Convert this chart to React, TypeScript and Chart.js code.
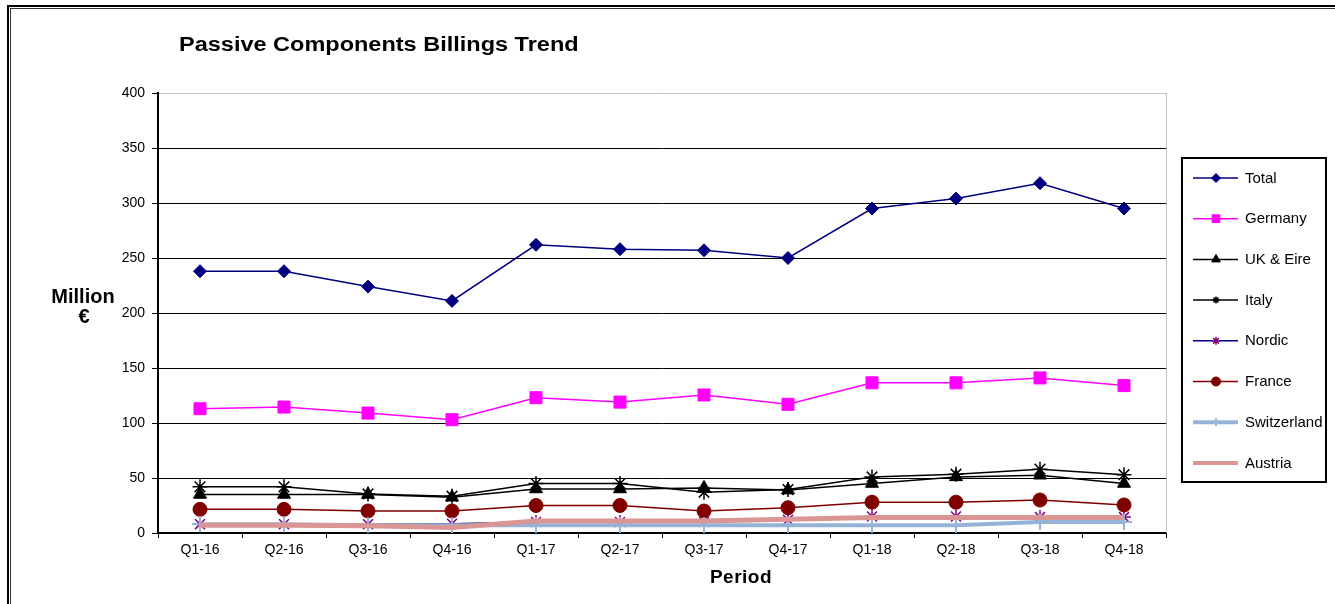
import React, { useEffect, useRef } from 'react';
import { Chart, registerables } from 'chart.js';
import * as helpers from 'chart.js/helpers';

Chart.register(...registerables);

const periods = ['Q1-16', 'Q2-16', 'Q3-16', 'Q4-16', 'Q1-17', 'Q2-17', 'Q3-17', 'Q4-17', 'Q1-18', 'Q2-18', 'Q3-18', 'Q4-18'];
const total = [238, 238, 224, 211, 262, 258, 257, 250, 295, 304, 318, 295];
const germany = [113, 114.5, 109, 103, 123, 119, 125.5, 117, 136.5, 136.5, 141, 134];
const ukEire = [35, 35, 35, 32.5, 40, 40, 41, 39, 45, 51, 52.5, 45];
const italy = [42, 42, 35.5, 33.5, 45, 45, 37, 39.5, 51, 53.5, 58, 53];
const nordic = [8, 8, 8, 8.5, 10, 10, 10, 12, 15, 15, 14.5, 14.5];
const france = [21.5, 21.5, 20, 20, 25, 25, 20, 23, 28, 28, 30, 25.5];
const switzerland = [8, 8, 7, 7, 7, 7, 7, 7, 7, 7, 10, 10];
const austria = [7, 7, 6.5, 5, 11, 11, 11, 12.5, 14, 14, 14, 14];
const seriesNames = ['Total', 'Germany', 'UK & Eire', 'Italy', 'Nordic', 'France', 'Switzerland', 'Austria'];

const FONT = "'Liberation Sans', Arial, sans-serif";

type Style = {
  line: string; width: number; marker: string; markerColor: string;
  radius: number; pbw: number; legendRadius: number; fillMarker: boolean;
};

const styles: Style[] = [
  { line: '#000080', width: 1.5, marker: 'rectRot', markerColor: '#000080', radius: 6.5, pbw: 1, legendRadius: 4.5, fillMarker: true },
  { line: '#FF00FF', width: 1.5, marker: 'rect', markerColor: '#FF00FF', radius: 8.5, pbw: 1, legendRadius: 5.5, fillMarker: true },
  { line: '#000000', width: 1.5, marker: 'triangle', markerColor: '#000000', radius: 7.5, pbw: 1, legendRadius: 5, fillMarker: true },
  { line: '#000000', width: 1.5, marker: 'star', markerColor: '#000000', radius: 7.5, pbw: 1.5, legendRadius: 3.5, fillMarker: false },
  { line: '#000080', width: 1.5, marker: 'star', markerColor: '#800080', radius: 7, pbw: 1.5, legendRadius: 4, fillMarker: false },
  { line: '#800000', width: 1.5, marker: 'circle', markerColor: '#800000', radius: 7, pbw: 1, legendRadius: 4.5, fillMarker: true },
  { line: '#95B3D7', width: 4, marker: 'cross', markerColor: '#95B3D7', radius: 8, pbw: 2, legendRadius: 4, fillMarker: false },
  { line: '#D99694', width: 5, marker: 'circle', markerColor: '#D99694', radius: 0, pbw: 0, legendRadius: 0, fillMarker: false },
];

const seriesValues = [total, germany, ukEire, italy, nordic, france, switzerland, austria];

const decorPlugin = {
  id: 'decor',
  beforeDraw(chart: any) {
    const ctx = chart.ctx;
    ctx.save();
    ctx.fillStyle = '#ffffff';
    ctx.fillRect(0, 0, chart.width, chart.height);
    // outer frame
    ctx.fillStyle = '#000000';
    ctx.fillRect(7, 5, 2, chart.height);
    ctx.fillRect(7, 5, chart.width, 2);
    ctx.fillStyle = '#333333';
    ctx.fillRect(10, 8, 1, chart.height);
    ctx.fillRect(10, 8, chart.width, 1);
    ctx.restore();
  },
  afterDraw(chart: any) {
    const ctx = chart.ctx;
    const area = chart.chartArea;
    ctx.save();
    // plot area right border (gray)
    ctx.strokeStyle = '#c0c0c0';
    ctx.lineWidth = 1;
    ctx.beginPath();
    ctx.moveTo(area.right + 0.5, area.top);
    ctx.lineTo(area.right + 0.5, area.bottom);
    ctx.stroke();

    // title (horizontally stretched like the original rendering)
    ctx.fillStyle = '#000';
    ctx.textAlign = 'left';
    ctx.textBaseline = 'alphabetic';
    ctx.font = `bold 20px ${FONT}`;
    ctx.save();
    ctx.translate(179, 51);
    ctx.scale(1.175, 1);
    ctx.fillText('Passive Components Billings Trend', 0, 0);
    ctx.restore();

    // y axis title
    ctx.textAlign = 'center';
    ctx.font = `bold 20px ${FONT}`;
    ctx.fillText('Million', 83, 303);
    ctx.fillText('€', 84, 323);

    // x axis title
    ctx.font = `bold 19px ${FONT}`;
    (ctx as any).letterSpacing = '0.5px';
    ctx.fillText('Period', 741, 583);
    (ctx as any).letterSpacing = '0px';

    // legend
    ctx.strokeStyle = '#000';
    ctx.lineWidth = 2;
    ctx.strokeRect(1182, 158, 144, 324);
    seriesNames.forEach((name, i) => {
      const st = styles[i];
      const y = 178 + i * 40.7;
      ctx.strokeStyle = st.line;
      ctx.lineWidth = Math.min(st.width, 4);
      ctx.beginPath();
      ctx.moveTo(1193, y);
      ctx.lineTo(1238, y);
      ctx.stroke();
      if (st.legendRadius > 0) {
        ctx.fillStyle = st.markerColor;
        ctx.strokeStyle = st.markerColor;
        ctx.lineWidth = st.pbw;
        helpers.drawPoint(ctx, { pointStyle: st.marker as any, rotation: 0, radius: st.legendRadius, borderWidth: st.pbw }, 1216, y);
      }
      ctx.fillStyle = '#000';
      ctx.textAlign = 'left';
      ctx.textBaseline = 'middle';
      ctx.font = `15px ${FONT}`;
      ctx.fillText(name, 1245, y + 0.5);
    });
    ctx.restore();
  },
};

export default function App() {
  const ref = useRef<HTMLCanvasElement | null>(null);
  useEffect(() => {
    document.body.style.margin = '0';
    const canvas = ref.current;
    if (!canvas) return;
    const datasets = seriesNames.map((name, i) => {
      const st = styles[i];
      return {
        label: name,
        data: seriesValues[i],
        borderColor: st.line,
        backgroundColor: st.line,
        borderWidth: st.width,
        pointStyle: st.marker,
        pointRadius: st.radius,
        pointHoverRadius: st.radius,
        pointBorderWidth: st.pbw,
        pointBorderColor: st.markerColor,
        pointBackgroundColor: st.fillMarker ? st.markerColor : 'transparent',
        tension: 0,
        fill: false,
        order: seriesNames.length - 1 - i,
      };
    });
    const chart = new Chart(canvas, {
      type: 'line',
      data: { labels: periods, datasets },
      options: {
        responsive: false,
        animation: false,
        devicePixelRatio: 1,
        events: [],
        layout: { padding: { left: 0, top: 93, right: 169, bottom: 0 } },
        plugins: {
          legend: { display: false },
          title: { display: false },
          tooltip: { enabled: false },
        },
        scales: {
          x: {
            offset: true,
            grid: { offset: true, drawOnChartArea: false, drawTicks: true, tickLength: 5, color: '#000', lineWidth: 1 },
            border: { color: '#000', width: 2 },
            ticks: { color: '#000', font: { family: FONT, size: 14 }, padding: 4, maxRotation: 0, autoSkip: false },
            afterFit: (scale: any) => { scale.height = 71; },
          },
          y: {
            min: 0,
            max: 400,
            ticks: { stepSize: 50, color: '#000', font: { family: FONT, size: 14 }, padding: 7 },
            grid: {
              color: (c: any) => (c.tick && c.tick.value === 400 ? '#c0c0c0' : '#000'),
              tickColor: '#000',
              lineWidth: 1,
              tickLength: 6,
            },
            border: { color: '#000', width: 2 },
            afterFit: (scale: any) => { scale.width = 158; },
          },
        },
      },
      plugins: [decorPlugin],
    });
    return () => chart.destroy();
  }, []);
  return (
    <div style={{ position: 'fixed', left: 0, top: 0, width: 1335, height: 604, background: '#fff' }}>
      <canvas ref={ref} width={1335} height={604} style={{ display: 'block', width: 1335, height: 604 }} />
    </div>
  );
}
